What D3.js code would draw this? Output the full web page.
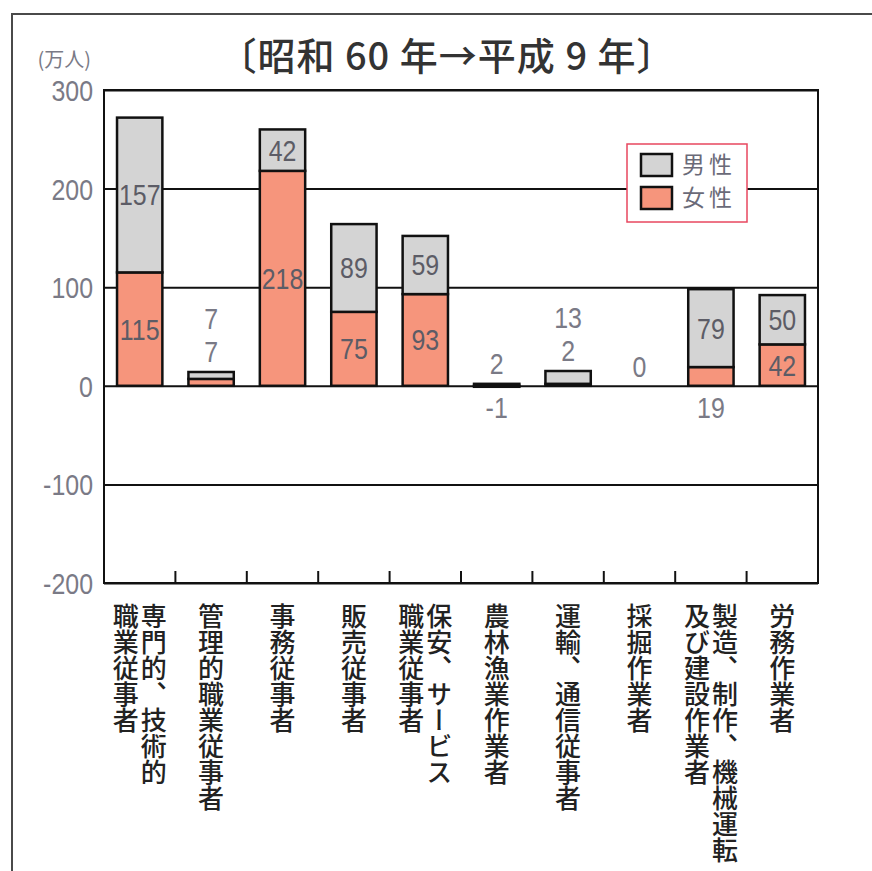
<!DOCTYPE html>
<html>
<head>
<meta charset="utf-8">
<script src="https://cdn.jsdelivr.net/npm/d3@7"></script>
<style>
  html, body { margin: 0; padding: 0; background: #fff; }
  svg { display: block; }
</style>
</head>
<body>
<svg id="chart" width="872" height="871"></svg>
<script>
// 職業別就業者数の増減（昭和60年→平成9年、万人）
const categories = [
  "専門的、技術的職業従事者", "管理的職業従事者", "事務従事者", "販売従事者",
  "保安、サービス職業従事者", "農林漁業作業者", "運輸、通信従事者", "採掘作業者",
  "製造、制作、機械運転及び建設作業者", "労務作業者"
];
// 縦書きラベルの各行（右の列から順に）
const categoryLines = [
  ["専門的、技術的", "職業従事者"], ["管理的職業従事者"], ["事務従事者"], ["販売従事者"],
  ["保安、サービス", "職業従事者"], ["農林漁業作業者"], ["運輸、通信従事者"], ["採掘作業者"],
  ["製造、制作、機械運転", "及び建設作業者"], ["労務作業者"]
];
const male   = [157, 7, 42, 89, 59,  2, 13, 0, 79, 50];
const female = [115, 7, 218, 75, 93, -1, 2, 0, 19, 42];
const yTicks = [300, 200, 100, 0, -100, -200];
const seriesNames = ["男性", "女性"];
const titleText = "〔昭和 60 年→平成 9 年〕";
const unitText = "(万人)";

const colors = { male: "#d4d4d4", female: "#f6957c" };
const numFont = "'Liberation Sans', Arial, sans-serif";
const jpFont = "'Noto Sans CJK JP', sans-serif";

const svg = d3.select("#chart");
const plot = { left: 104, right: 818, top: 90, bottom: 583 };

const x = d3.scaleBand().domain(categories)
  .range([plot.left, plot.right]).paddingInner(0.365).paddingOuter(0.1825);
const y = d3.scaleLinear().domain([-200, 300]).range([plot.bottom, plot.top]);

// 外枠
svg.append("path")
  .attr("d", `M12,871 L12,14 L872,14`)
  .attr("fill", "none").attr("stroke", "#4a4a4a").attr("stroke-width", 2);

// タイトル
svg.append("text")
  .attr("x", 447).attr("y", 70)
  .attr("text-anchor", "middle")
  .attr("font-family", jpFont).attr("font-size", 38).attr("font-weight", 500)
  .attr("letter-spacing", 1)
  .attr("fill", "#333")
  .text(titleText);

// 単位
svg.append("text")
  .attr("x", 91).attr("y", 67)
  .attr("text-anchor", "end")
  .attr("font-family", jpFont).attr("font-size", 20)
  .attr("fill", "#7a7a86")
  .text(unitText);

// 目盛線と軸ラベル
const yAxis = d3.axisLeft(y).tickValues(yTicks)
  .tickSize(-(plot.right - plot.left)).tickFormat(d => String(d));
const gy = svg.append("g").attr("transform", `translate(${plot.left},0)`).call(yAxis);
gy.select(".domain").remove();
gy.selectAll(".tick line").attr("stroke", "#111").attr("stroke-width", 2);
gy.selectAll(".tick text")
  .attr("x", null).attr("dy", "0.36em")
  .attr("transform", "translate(-11,0) scale(0.86,1)")
  .attr("font-family", numFont).attr("font-size", 29)
  .attr("fill", "#7a7a86");

// 棒（積み上げ）
const rows = categories.map((c, i) => ({ c, m: male[i], f: female[i] }));
const barG = svg.append("g");
rows.forEach(r => {
  const x0 = x(r.c), w = x.bandwidth();
  // 女性：0 から f
  const fTop = r.f >= 0 ? y(r.f) : y(0);
  const fBot = r.f >= 0 ? y(0) : y(r.f);
  // 男性：女性の上に積む（女性が負の場合は 0 から）
  const mBase = Math.max(r.f, 0);
  const mTop = y(mBase + r.m), mBot = y(mBase);
  if (r.f !== 0) {
    barG.append("rect").attr("x", x0).attr("y", fTop)
      .attr("width", w).attr("height", fBot - fTop)
      .attr("fill", colors.female).attr("stroke", "#111").attr("stroke-width", 2.5);
  }
  if (r.m !== 0) {
    barG.append("rect").attr("x", x0).attr("y", mTop)
      .attr("width", w).attr("height", mBot - mTop)
      .attr("fill", colors.male).attr("stroke", "#111").attr("stroke-width", 2.5);
  }
});

// 枠
svg.append("rect")
  .attr("x", plot.left).attr("y", plot.top)
  .attr("width", plot.right - plot.left).attr("height", plot.bottom - plot.top)
  .attr("fill", "none").attr("stroke", "#111").attr("stroke-width", 2);

// 区切り目盛（内向き）
const step = x.step();
categories.slice(0, -1).forEach(c => {
  const bx = x(c) + x.bandwidth() / 2 + step / 2;
  svg.append("line")
    .attr("x1", bx).attr("x2", bx)
    .attr("y1", plot.bottom).attr("y2", plot.bottom - 12)
    .attr("stroke", "#111").attr("stroke-width", 2);
});

// 数値ラベル
const labelG = svg.append("g");
function numLabel(cx, cy, v, fill) {
  labelG.append("text")
    .attr("transform", `translate(${cx},${cy}) scale(0.86,1)`)
    .attr("dy", "0.36em")
    .attr("text-anchor", "middle")
    .attr("font-family", numFont).attr("font-size", 29)
    .attr("fill", fill)
    .text(v);
}
const inside = "#5c5c66", outside = "#7a7a86";
const minInside = 25;
rows.forEach(r => {
  const cx = x(r.c) + x.bandwidth() / 2;
  const mBase = Math.max(r.f, 0);
  const top = y(mBase + r.m);
  if (r.m === 0 && r.f === 0) { numLabel(cx, y(0) - 19, 0, outside); return; }
  const above = [];
  if (r.m >= minInside) numLabel(cx, (y(mBase) + top) / 2, r.m, inside);
  else above.push(r.m);
  if (r.f >= minInside) numLabel(cx, (y(0) + y(r.f)) / 2, r.f, inside);
  else if (r.f < 0 || r.m >= minInside) numLabel(cx, y(0) + 22, r.f, outside);
  else above.push(r.f);
  // 小さい値は棒の上に上から順に並べる
  above.forEach((v, k) => {
    numLabel(cx, top - 20 - (above.length - 1 - k) * 33, v, outside);
  });
});

// 縦書きの項目名
const catG = svg.append("g");
categories.forEach((c, i) => {
  const lines = categoryLines[i];
  const cx = x(c) + x.bandwidth() / 2;
  const gap = 28;
  lines.forEach((ln, k) => {
    const colX = cx + ((lines.length - 1) / 2 - k) * gap;
    catG.append("text")
      .attr("x", colX).attr("y", 603)
      .style("writing-mode", "vertical-rl")
      .style("text-orientation", "upright")
      .attr("font-family", jpFont).attr("font-size", 26).attr("font-weight", 500)
      .attr("fill", "#222")
      .text(ln);
  });
});

// 凡例
const lg = svg.append("g").attr("transform", "translate(627,144)");
lg.append("rect").attr("width", 120).attr("height", 78)
  .attr("fill", "#fff").attr("stroke", "#e8475f").attr("stroke-width", 1.5);
[colors.male, colors.female].forEach((col, k) => {
  lg.append("rect").attr("x", 14).attr("y", 10 + k * 33)
    .attr("width", 31).attr("height", 22)
    .attr("fill", col).attr("stroke", "#111").attr("stroke-width", 2.5);
  lg.append("text").attr("x", 55).attr("y", 21 + k * 33).attr("dy", "0.36em")
    .attr("font-family", jpFont).attr("font-size", 23)
    .attr("letter-spacing", 4)
    .attr("fill", "#6a6a78")
    .text(seriesNames[k]);
});
</script>
</body>
</html>
